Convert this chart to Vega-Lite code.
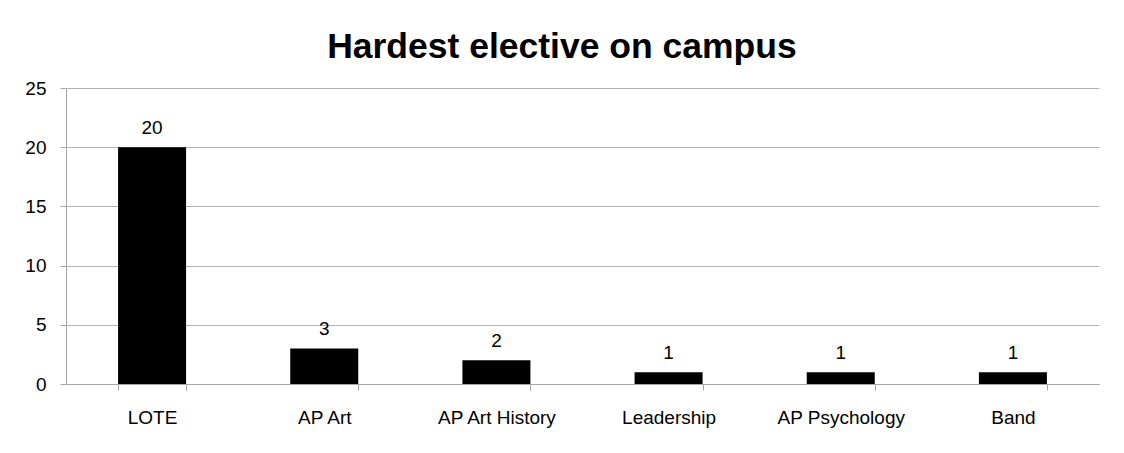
{
  "$schema": "https://vega.github.io/schema/vega-lite/v6.json",
  "width": 1033,
  "height": 296,
  "autosize": {"type": "none"},
  "padding": {"left": 66, "top": 88, "right": 25, "bottom": 69},
  "background": "white",
  "title": {
    "text": "Hardest elective on campus",
    "font": "Liberation Sans",
    "fontSize": 35.5,
    "fontWeight": "bold",
    "color": "black",
    "anchor": "middle",
    "frame": "bounds",
    "offset": 14
  },
  "config": {
    "view": {"stroke": null},
    "font": "Liberation Sans"
  },
  "data": {
    "values": [
      {"elective": "LOTE", "count": 20},
      {"elective": "AP Art", "count": 3},
      {"elective": "AP Art History", "count": 2},
      {"elective": "Leadership", "count": 1},
      {"elective": "AP Psychology", "count": 1},
      {"elective": "Band", "count": 1}
    ]
  },
  "encoding": {
    "x": {
      "field": "elective",
      "type": "nominal",
      "sort": null,
      "scale": {"paddingInner": 0.605, "paddingOuter": 0.3025},
      "axis": {
        "title": null,
        "labelAngle": 0,
        "labelFont": "Liberation Sans",
        "labelFontSize": 19,
        "labelColor": "black",
        "labelPadding": 18,
        "tickBand": "extent",
        "tickSize": 6,
        "tickColor": "#a6a6a6",
        "domainColor": "#a6a6a6",
        "grid": false
      }
    },
    "y": {
      "field": "count",
      "type": "quantitative",
      "scale": {"domain": [0, 25]},
      "axis": {
        "title": null,
        "values": [0, 5, 10, 15, 20, 25],
        "labelFont": "Liberation Sans",
        "labelFontSize": 19,
        "labelColor": "black",
        "labelPadding": 14,
        "tickSize": 6,
        "tickColor": "#a6a6a6",
        "domainColor": "#a6a6a6",
        "grid": true,
        "gridColor": "#b3b3b3",
        "gridOpacity": 1
      }
    }
  },
  "layer": [
    {"mark": {"type": "bar", "color": "black"}},
    {
      "mark": {"type": "text", "baseline": "alphabetic", "dy": -13, "fontSize": 19, "font": "Liberation Sans", "color": "black"},
      "encoding": {"text": {"field": "count", "type": "quantitative"}}
    }
  ]
}
